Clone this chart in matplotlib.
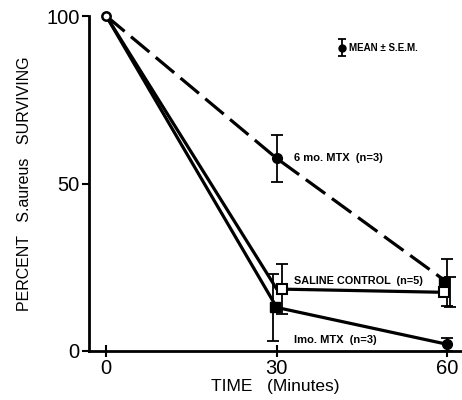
import matplotlib.pyplot as plt

plt.rcParams["font.family"] = ["Liberation Sans", "DejaVu Sans"]

times = [0, 30, 60]

mtx6_mean = [100, 57.5, 20.5]
mtx6_sem = [0, 7, 7]

saline_mean = [100, 18.5, 17.5]
saline_sem = [0, 7.5, 4.5]

mtx1_mean = [100, 13, 2]
mtx1_sem = [0, 10, 2]


def main():
    fig = plt.figure(figsize=(4.62, 4.0), dpi=100)
    ax = fig.add_axes([0.193, 0.1225, 0.807, 0.8375])

    # 6 mo. MTX, dashed
    ax.plot(times, mtx6_mean, color="black", lw=2.3, dashes=(7.5, 2.6), zorder=3)
    ax.errorbar(times[1:], mtx6_mean[1:], yerr=mtx6_sem[1:], fmt="none",
                ecolor="black", elinewidth=1.3, capsize=4, capthick=1.3)
    ax.plot(times[1], mtx6_mean[1], "o", color="black", ms=7, zorder=4)
    ax.plot(times[2] - 0.5, mtx6_mean[2], "s", color="black", ms=7, zorder=4)

    # saline control
    ax.plot(times, saline_mean, color="black", lw=2.3, zorder=3)
    ax.errorbar([times[1] + 1, times[2] + 0.5], saline_mean[1:], yerr=saline_sem[1:],
                fmt="none", ecolor="black", elinewidth=1.3, capsize=4, capthick=1.3)
    ax.plot([times[1] + 1, times[2] - 0.5], saline_mean[1:], "s", mfc="white",
            mec="black", mew=1.5, ms=6.5, zorder=5)

    # 1 mo. MTX
    ax.plot(times, mtx1_mean, color="black", lw=2.3, zorder=3)
    ax.errorbar([times[1] - 0.7, times[2]], mtx1_mean[1:], yerr=mtx1_sem[1:],
                fmt="none", ecolor="black", elinewidth=1.3, capsize=4, capthick=1.3)
    ax.plot(times[1] - 0.3, mtx1_mean[1], "s", color="black", ms=7, zorder=4)
    ax.plot(times[2], mtx1_mean[2], "o", color="black", ms=7, zorder=4)

    # start point
    ax.plot(0, 100, "o", mfc="white", mec="black", mew=1.8, ms=6, zorder=5,
            clip_on=False)

    ax.text(33, 57.5, "6 mo. MTX  (n=3)", fontsize=8, fontweight="bold", va="center")
    ax.text(33, 21, "SALINE CONTROL  (n=5)", fontsize=7.8, fontweight="bold", va="center")
    ax.text(33, 3.2, "Imo. MTX  (n=3)", fontsize=8, fontweight="bold", va="center")

    # legend key
    ax.errorbar([41.5], [90.5], yerr=[2.5], fmt="o", color="black", ms=5,
                elinewidth=1.3, capsize=3, capthick=1.3)
    ax.text(42.8, 90.5, "MEAN \u00b1 S.E.M.", fontsize=7, fontweight="bold", va="center")

    ax.set_xlim(-3, 62.6)
    ax.set_ylim(0, 100)
    ax.set_xticks([0, 30, 60])
    ax.set_yticks([0, 50, 100])
    ax.tick_params(axis="x", direction="inout", length=9, width=1.5, labelsize=14.5, pad=1)
    ax.tick_params(axis="y", direction="out", length=5, width=1.5, labelsize=14.5, pad=2)
    for s in ["top", "right"]:
        ax.spines[s].set_visible(False)
    for s in ["left", "bottom"]:
        ax.spines[s].set_linewidth(2)

    ax.set_xlabel("TIME   (Minutes)", fontsize=12.5, labelpad=1)
    ax.set_ylabel("PERCENT   S.aureus   SURVIVING", fontsize=11.5, labelpad=10)

    fig.savefig("out.png", dpi=100)


if __name__ == "__main__":
    main()
